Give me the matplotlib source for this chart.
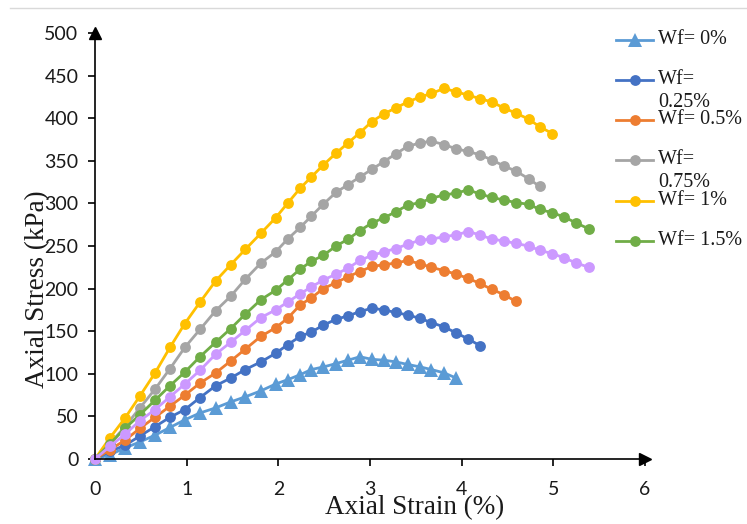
import matplotlib
matplotlib.use("Agg")
import matplotlib.pyplot as plt
from matplotlib.lines import Line2D

# ---------------- data ----------------
strain = [0, 0.164, 0.327, 0.49, 0.655, 0.818, 0.98, 1.145, 1.316, 1.48, 1.64, 1.81,
          1.97, 2.1, 2.24, 2.36, 2.49, 2.63, 2.76, 2.89, 3.02, 3.15, 3.28, 3.41, 3.55,
          3.67, 3.81, 3.94, 4.07, 4.2, 4.33, 4.46, 4.59, 4.73, 4.85, 4.99, 5.12, 5.25, 5.39]

wf_0 = [0, 5, 13, 20, 28, 37, 46, 54, 60, 67, 73, 80, 88, 93, 99, 105, 108, 112, 116, 120,
        117, 116, 114, 111, 108, 105, 101, 95]
wf_025 = [0, 9, 16, 27, 38, 49, 58, 72, 86, 95, 105, 114, 124, 134, 144, 149, 157, 164, 168,
          173, 177, 175, 172, 169, 165, 160, 155, 148, 141, 133]
wf_05 = [0, 11, 22, 36, 49, 62, 75, 89, 101, 115, 129, 144, 154, 165, 181, 189, 200, 207, 214,
         220, 226, 228, 230, 233, 229, 225, 221, 217, 212, 206, 199, 193, 185]
wf_075 = [0, 18, 38, 60, 82, 106, 131, 152, 174, 191, 211, 230, 243, 258, 272, 285, 299, 313,
          322, 331, 340, 349, 358, 367, 371, 373, 369, 364, 361, 357, 351, 344, 338, 329, 320]
wf_1 = [0, 25, 48, 74, 101, 131, 159, 184, 209, 228, 246, 265, 283, 300, 318, 331, 345, 359,
        371, 383, 396, 405, 412, 419, 425, 429, 435, 431, 427, 423, 419, 412, 406, 399, 390, 382]
wf_15 = [0, 18, 36, 52, 69, 86, 102, 120, 137, 153, 170, 187, 198, 210, 223, 232, 239, 250,
         258, 268, 277, 283, 290, 298, 301, 306, 310, 312, 316, 311, 307, 304, 301, 299, 293,
         289, 284, 277, 270]
wf_2 = [0, 15, 29, 45, 58, 73, 88, 104, 123, 137, 151, 166, 175, 184, 194, 202, 210, 217, 224,
        233, 239, 243, 247, 252, 257, 258, 261, 263, 267, 263, 258, 256, 253, 250, 245, 241,
        236, 230, 225]

legend_labels = ["Wf= 0%", "Wf=\n0.25%", "Wf= 0.5%", "Wf=\n0.75%", "Wf= 1%", "Wf= 1.5%"]
x_ticks = [0, 1, 2, 3, 4, 5, 6]
y_ticks = [0, 50, 100, 150, 200, 250, 300, 350, 400, 450, 500]

# ---------------- styles ----------------
series = [
    (wf_0, "#5B9BD5", "^", 9.5, "Wf= 0%"),
    (wf_025, "#4472C4", "o", 7.8, "Wf= 0.25%"),
    (wf_05, "#ED7D31", "o", 7.8, "Wf= 0.5%"),
    (wf_075, "#A5A5A5", "o", 7.8, "Wf= 0.75%"),
    (wf_1, "#FFC000", "o", 7.8, "Wf= 1%"),
    (wf_15, "#70AD47", "o", 7.8, "Wf= 1.5%"),
    (wf_2, "#CC99FF", "o", 7.8, None),
]

W, H = 747, 524
fig = plt.figure(figsize=(W / 100, H / 100), dpi=100)
ax = fig.add_axes([95 / W, (H - 459) / H, 550 / W, 426 / H])

for vals, col, mk, ms, lab in series:
    ax.plot(strain[:len(vals)], vals, color=col, marker=mk, markersize=ms,
            linewidth=2.0, markeredgewidth=0, clip_on=False)

ax.set_xlim(0, 6)
ax.set_ylim(0, 500)
ax.set_xticks(x_ticks)
ax.set_yticks(y_ticks)
ax.set_xticklabels([str(t) for t in x_ticks])
ax.set_yticklabels([str(t) for t in y_ticks])

for s in ["top", "right"]:
    ax.spines[s].set_visible(False)
for s in ["left", "bottom"]:
    ax.spines[s].set_linewidth(1.2)
    ax.spines[s].set_color("black")

ax.tick_params(axis="both", direction="out", length=5, width=1.2, color="black",
               labelcolor="#1a1a1a")
ax.tick_params(axis="x", pad=11)
ax.tick_params(axis="y", pad=7)
for lbl in ax.get_xticklabels() + ax.get_yticklabels():
    lbl.set_fontfamily(["Lato", "DejaVu Sans"])
    lbl.set_fontsize(14)

# axis arrows
ax.plot([1], [0], marker=">", color="black", markersize=8, transform=ax.transAxes,
        clip_on=False)
ax.plot([0], [1], marker="^", color="black", markersize=8, transform=ax.transAxes,
        clip_on=False)

serif = ["Liberation Serif", "DejaVu Serif"]
fig.text(415 / W, 1 - 508 / H, "Axial Strain (%)", ha="center", va="center",
         family=serif, fontsize=19.5, color="#1a1a1a")
fig.text(38 / W, 1 - 289 / H, "Axial Stress (kPa)", ha="center", va="center",
         rotation=90, family=serif, fontsize=19.5, color="#1a1a1a")

# top chart border line
fig.add_artist(Line2D([10 / W, 1], [1 - 8 / H, 1 - 8 / H], color="#d9d9d9",
                      linewidth=1, transform=fig.transFigure))

# manual legend
leg_y = [40, 80, 120, 160, 201, 241]
for (vals, col, mk, ms, lab), yy, txt in zip(series[:6], leg_y, legend_labels):
    yf = 1 - yy / H
    fig.add_artist(Line2D([616 / W, 653 / W], [yf, yf], color=col, linewidth=2.0,
                          transform=fig.transFigure))
    fig.add_artist(Line2D([635 / W], [yf], color=col, marker=mk, markersize=ms,
                          markeredgewidth=0, transform=fig.transFigure))
    fig.text(658 / W, 1 - (yy - 10) / H, txt, ha="left", va="top", family=serif,
             fontsize=14.5, color="#1a1a1a", linespacing=1.3)

fig.savefig("out.png", dpi=100, facecolor="white")
